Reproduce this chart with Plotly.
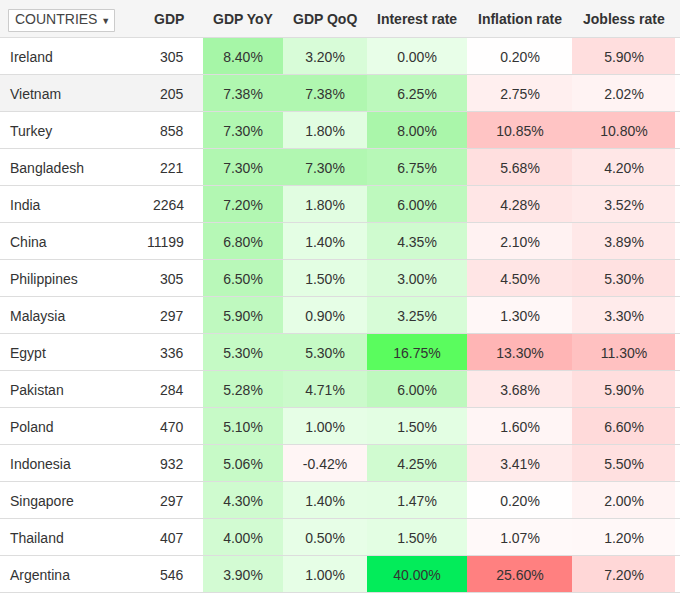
import plotly.graph_objects as go

# ---------------- data ----------------
countries = ["Ireland", "Vietnam", "Turkey", "Bangladesh", "India", "China", "Philippines",
             "Malaysia", "Egypt", "Pakistan", "Poland", "Indonesia", "Singapore", "Thailand",
             "Argentina"]
gdp = [305, 205, 858, 221, 2264, 11199, 305, 297, 336, 284, 470, 932, 297, 407, 546]
gdp_yoy = [8.40, 7.38, 7.30, 7.30, 7.20, 6.80, 6.50, 5.90, 5.30, 5.28, 5.10, 5.06, 4.30, 4.00, 3.90]
gdp_qoq = [3.20, 7.38, 1.80, 7.30, 1.80, 1.40, 1.50, 0.90, 5.30, 4.71, 1.00, -0.42, 1.40, 0.50, 1.00]
interest_rate = [0.00, 6.25, 8.00, 6.75, 6.00, 4.35, 3.00, 3.25, 16.75, 6.00, 1.50, 4.25, 1.47, 1.50, 40.00]
inflation_rate = [0.20, 2.75, 10.85, 5.68, 4.28, 2.10, 4.50, 1.30, 13.30, 3.68, 1.60, 3.41, 0.20, 1.07, 25.60]
jobless_rate = [5.90, 2.02, 10.80, 4.20, 3.52, 3.89, 5.30, 3.30, 11.30, 5.90, 6.60, 5.50, 2.00, 1.20, 7.20]
header_labels = ["GDP", "GDP YoY", "GDP QoQ", "Interest rate", "Inflation rate", "Jobless rate"]
dropdown_label = "COUNTRIES"
highlighted_row = "Vietnam"

# ---------------- layout geometry / styles ----------------
W, H = 680, 600
HEADER_H, ROW_H = 38, 37
col_edges = [0, 203, 283, 367, 467, 572, 675, 680]
FONT = "Liberation Sans, Arial, sans-serif"
TXT = "#333333"
LINE = "#dddddd"
HEADER_BG = "#f5f5f5"


def scale(stops, zmin, zmax):
    return [[(v - zmin) / (zmax - zmin), c] for v, c in stops]


G_MIN, G_MAX = -1.0, 40.0
green_scale = scale([
    (-1.0, "rgb(255,238,238)"),
    (-0.01, "rgb(255,250,250)"),
    (0.0, "rgb(232,254,232)"),
    (1.0, "rgb(230,254,230)"),
    (2.0, "rgb(224,253,224)"),
    (4.0, "rgb(210,251,210)"),
    (6.0, "rgb(190,249,190)"),
    (8.0, "rgb(170,246,170)"),
    (17.0, "rgb(88,252,92)"),
    (40.0, "rgb(3,236,90)"),
], G_MIN, G_MAX)

R_MIN, R_MAX = 0.0, 25.6
red_scale = scale([
    (0.0, "rgb(255,255,255)"),
    (1.0, "rgb(255,249,249)"),
    (3.0, "rgb(255,237,237)"),
    (6.0, "rgb(255,221,221)"),
    (11.0, "rgb(255,195,195)"),
    (13.3, "rgb(255,181,181)"),
    (25.6, "rgb(255,128,128)"),
], R_MIN, R_MAX)

n = len(countries)
row_edges = [HEADER_H + ROW_H * i for i in range(n + 1)]
row_centers = [(row_edges[i] + row_edges[i + 1]) / 2 for i in range(n)]

fig = go.Figure()

# header background
fig.add_trace(go.Heatmap(x=[col_edges[0], col_edges[-1]], y=[0, HEADER_H], z=[[0]],
                         colorscale=[[0, HEADER_BG], [1, HEADER_BG]], showscale=False,
                         ygap=1, hoverinfo="skip"))
# filler below the last row
fig.add_trace(go.Heatmap(x=[col_edges[0], col_edges[-1]], y=[row_edges[-1], H + 40], z=[[0]],
                         colorscale=[[0, "#ffffff"], [1, "#ffffff"]], showscale=False,
                         ygap=1, hoverinfo="skip"))
# country + GDP block (with hovered row highlight)
fig.add_trace(go.Heatmap(x=[col_edges[0], col_edges[1]], y=row_edges,
                         z=[[1 if c == highlighted_row else 0] for c in countries],
                         zmin=0, zmax=1, colorscale=[[0, "#ffffff"], [1, "#f3f3f3"]],
                         showscale=False, ygap=1, hoverinfo="skip"))
# right sliver
fig.add_trace(go.Heatmap(x=[col_edges[-2], col_edges[-1]], y=row_edges,
                         z=[[0] for _ in countries], zmin=0, zmax=1,
                         colorscale=[[0, "#ffffff"], [1, "#ffffff"]],
                         showscale=False, ygap=1, hoverinfo="skip"))

metric_cols = [
    (gdp_yoy, green_scale, G_MIN, G_MAX),
    (gdp_qoq, green_scale, G_MIN, G_MAX),
    (interest_rate, green_scale, G_MIN, G_MAX),
    (inflation_rate, red_scale, R_MIN, R_MAX),
    (jobless_rate, red_scale, R_MIN, R_MAX),
]
for j, (vals, cs, zmin, zmax) in enumerate(metric_cols):
    fig.add_trace(go.Heatmap(
        x=[col_edges[j + 1], col_edges[j + 2]], y=row_edges,
        z=[[v] for v in vals], zmin=zmin, zmax=zmax, colorscale=cs,
        showscale=False, ygap=1, hoverinfo="skip",
        text=[["%.2f%%" % v] for v in vals], texttemplate="%{text}",
        textfont=dict(family=FONT, size=14, color=TXT),
    ))

annotations = []
for c, g, yc in zip(countries, gdp, row_centers):
    annotations.append(dict(x=8, y=yc, text=c, xanchor="left", yanchor="middle",
                            showarrow=False, font=dict(family=FONT, size=14, color=TXT)))
    annotations.append(dict(x=186, y=yc, text=str(g), xanchor="right", yanchor="middle",
                            showarrow=False, font=dict(family=FONT, size=14, color=TXT)))

hdr_font = dict(family=FONT, size=14, color=TXT, weight="bold")
annotations.append(dict(x=186, y=HEADER_H / 2, text=header_labels[0], xanchor="right",
                        yanchor="middle", showarrow=False, font=hdr_font))
for j, lab in enumerate(header_labels[1:]):
    xc = (col_edges[j + 1] + col_edges[j + 2]) / 2
    annotations.append(dict(x=xc, y=HEADER_H / 2, text=lab, xanchor="center",
                            yanchor="middle", showarrow=False, font=hdr_font))
annotations.append(dict(x=13, y=HEADER_H / 2, xanchor="left", yanchor="middle", showarrow=False,
                        text=dropdown_label + " <span style='font-size:9px'>▼</span>",
                        font=dict(family=FONT, size=14, color="#444444")))

fig.update_layout(
    width=W, height=H,
    margin=dict(l=0, r=0, t=0, b=0),
    paper_bgcolor="white", plot_bgcolor=LINE,
    xaxis=dict(range=[0, W], visible=False, fixedrange=True),
    yaxis=dict(range=[H, 0], visible=False, fixedrange=True),
    annotations=annotations,
    shapes=[dict(type="rect", xref="x", yref="y", x0=8.5, x1=114.5, y0=9.5, y1=31.5,
                 line=dict(color="#cccccc", width=1), fillcolor="white", layer="above")],
    showlegend=False,
)

fig.write_html(
    "out.html",
    config={"displayModeBar": False},
    post_script="document.body.style.margin='0';document.body.style.overflow='hidden';",
)
